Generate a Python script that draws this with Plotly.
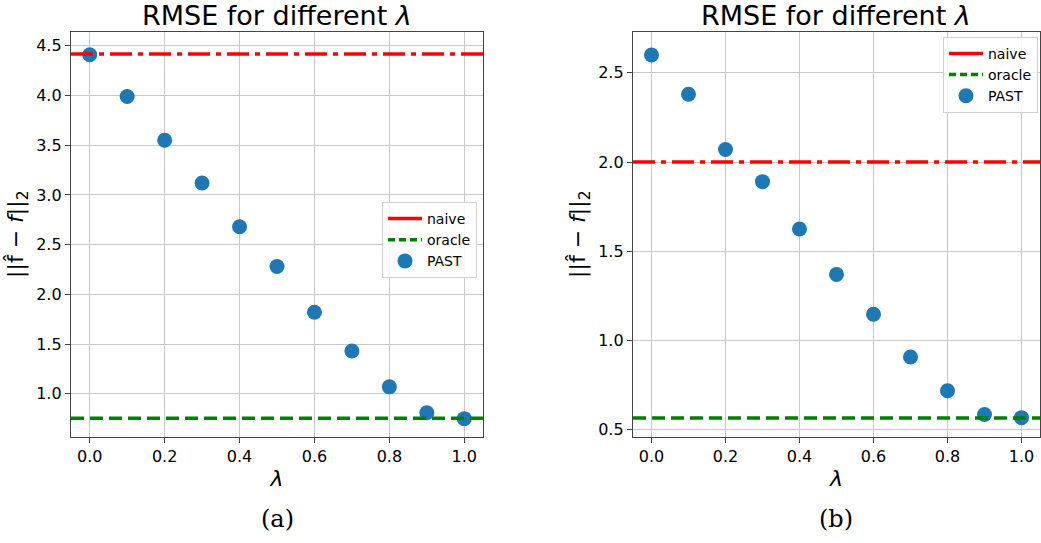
import plotly.graph_objects as go

lambdas = [0.0, 0.1, 0.2, 0.3, 0.4, 0.5, 0.6, 0.7, 0.8, 0.9, 1.0]
past_a = [4.41, 3.99, 3.55, 3.12, 2.68, 2.28, 1.82, 1.43, 1.07, 0.81, 0.75]
past_b = [2.60, 2.38, 2.07, 1.89, 1.625, 1.37, 1.147, 0.907, 0.718, 0.585, 0.567]
naive_a, oracle_a = 4.417, 0.753
naive_b, oracle_b = 2.0, 0.565
xticks = [0.0, 0.2, 0.4, 0.6, 0.8, 1.0]
yticks_a = [1.0, 1.5, 2.0, 2.5, 3.0, 3.5, 4.0, 4.5]
yticks_b = [0.5, 1.0, 1.5, 2.0, 2.5]
captions = ["(a)", "(b)"]

BLUE = "#1f77b4"
RED = "#ff0000"
GREEN = "#008000"
DASHDOT = "22px,6px,5px,6px"
DASH = "13px,6px"

fig = go.Figure()

H = 543.0
ydom = [(543 - 439) / H, (543 - 32) / H]
xdom_a = [71 / 1041, 483 / 1041]
xdom_b = [633 / 1041, 1040 / 1041]

panels = [
    ("x", "y", "legend", past_a, naive_a, oracle_a),
    ("x2", "y2", "legend2", past_b, naive_b, oracle_b),
]
for xa, ya, lg, past, nv, orc in panels:
    fig.add_shape(type="line", xref=f"{xa} domain", yref=ya, x0=0, x1=1, y0=nv, y1=nv,
                  line=dict(color=RED, width=3.5, dash=DASHDOT), layer="above")
    fig.add_shape(type="line", xref=f"{xa} domain", yref=ya, x0=0, x1=1, y0=orc, y1=orc,
                  line=dict(color=GREEN, width=3.5, dash=DASH), layer="above")
    fig.add_trace(go.Scatter(x=[None], y=[None], mode="lines", name="naive",
                             line=dict(color=RED, width=3.5), xaxis=xa, yaxis=ya, legend=lg))
    fig.add_trace(go.Scatter(x=[None], y=[None], mode="lines", name="oracle",
                             line=dict(color=GREEN, width=3.5, dash="7px,4px"), xaxis=xa, yaxis=ya, legend=lg))
    fig.add_trace(go.Scatter(x=lambdas, y=past, mode="markers", name="PAST",
                             marker=dict(color=BLUE, size=15, line=dict(width=0)),
                             xaxis=xa, yaxis=ya, legend=lg, cliponaxis=False))

axis_common = dict(
    showgrid=True, gridcolor="#c8c8c8", gridwidth=1,
    showline=True, linecolor="#444444", linewidth=1.3, mirror=True,
    ticks="outside", ticklen=5, tickcolor="#444444", tickwidth=1,
    zeroline=False,
    tickfont=dict(family="DejaVu Sans", size=16, color="#000000"),
)
xaxis_common = dict(axis_common, range=[-0.05, 1.05], tickvals=xticks,
                    ticktext=[f"{v:.1f}" for v in xticks],
                    title=dict(text="<i>λ</i>", font=dict(family="DejaVu Sans", size=22, color="#000"), standoff=5))
ylabel = "||f\u0302 \u2212 <i>f</i>||<sub>2</sub>"
yfont = dict(family="DejaVu Sans", size=22, color="#000")
fig.update_layout(
    width=1041, height=543,
    margin=dict(l=0, r=0, t=0, b=0),
    paper_bgcolor="white", plot_bgcolor="white",
    xaxis=dict(xaxis_common, domain=xdom_a, anchor="y"),
    yaxis=dict(axis_common, domain=ydom, anchor="x", range=[0.57, 4.64], tickvals=yticks_a,
               ticktext=[f"{v:.1f}" for v in yticks_a],
               title=dict(text=ylabel, font=yfont, standoff=6)),
    xaxis2=dict(xaxis_common, domain=xdom_b, anchor="y2"),
    yaxis2=dict(axis_common, domain=ydom, anchor="x2", range=[0.461, 2.73], tickvals=yticks_b,
                ticktext=[f"{v:.1f}" for v in yticks_b],
                title=dict(text=ylabel, font=yfont, standoff=6)),
    legend=dict(x=477 / 1041, y=1 - 203 / H, xanchor="right", yanchor="top",
                bgcolor="rgba(255,255,255,0.85)", bordercolor="#d0d0d0", borderwidth=1,
                font=dict(family="DejaVu Sans", size=14, color="#000"), tracegroupgap=0,
                itemwidth=34),
    legend2=dict(x=1038 / 1041, y=1 - 37 / H, xanchor="right", yanchor="top",
                 bgcolor="rgba(255,255,255,0.85)", bordercolor="#d0d0d0", borderwidth=1,
                 font=dict(family="DejaVu Sans", size=14, color="#000"), tracegroupgap=0,
                 itemwidth=34),
    showlegend=True,
)

for xd, cap in zip([xdom_a, xdom_b], captions):
    cx = (xd[0] + xd[1]) / 2
    fig.add_annotation(text="RMSE for different <i>λ</i>", xref="paper", yref="paper",
                       x=cx, y=1 - 16 / H, xanchor="center", yanchor="middle", showarrow=False,
                       font=dict(family="DejaVu Sans", size=27, color="#000"))
    fig.add_annotation(text=cap, xref="paper", yref="paper",
                       x=cx, y=1 - 522 / H, xanchor="center", yanchor="middle", showarrow=False,
                       font=dict(family="DejaVu Serif", size=24, color="#000"))

fig.write_html("out.html")
